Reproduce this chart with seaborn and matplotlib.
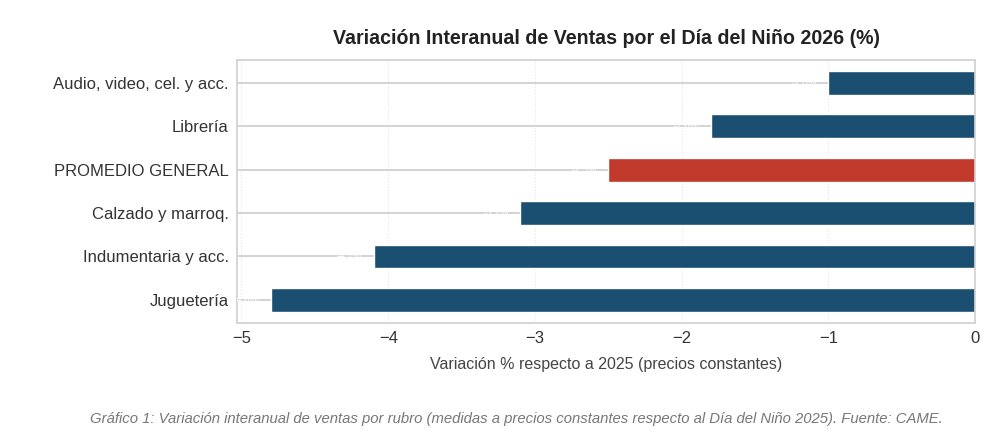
import pandas as pd
import matplotlib.pyplot as plt
import seaborn as sns

categorias = ['Audio, video, cel. y acc.', 'Librería', 'PROMEDIO GENERAL',
              'Calzado y marroq.', 'Indumentaria y acc.', 'Juguetería']
variacion = [-1.0, -1.8, -2.5, -3.1, -4.1, -4.8]
colores = ['#1b4f72', '#1b4f72', '#c0392b', '#1b4f72', '#1b4f72', '#1b4f72']

df = pd.DataFrame({'rubro': categorias, 'var': variacion})

sns.set_theme(style='whitegrid')
plt.rcParams['font.family'] = ['Liberation Sans', 'DejaVu Sans']

fig = plt.figure(figsize=(9.92, 4.34), dpi=100)
ax = fig.add_axes([0.239, 0.256, 0.744, 0.606])

sns.barplot(data=df, x='var', y='rubro', hue='rubro', palette=colores,
            width=0.55, legend=False, ax=ax, saturation=1)

# etiquetas blancas (casi invisibles en el original)
for i, v in enumerate(variacion):
    ax.text(v - 0.08, i, f'{v:.1f}%', color='white', ha='right', va='center',
            fontsize=7, clip_on=True)

ax.set_xlim(-5.03, 0)
ax.set_ylim(5.53, -0.53)
ax.set_xticks([-5, -4, -3, -2, -1, 0])
ax.set_xticklabels(['\u22125', '\u22124', '\u22123', '\u22122', '\u22121', '0'])
ax.tick_params(axis='both', labelsize=12, colors='#333333', length=0, pad=6)
ax.grid(axis='y', color='#cccccc', linewidth=1.2, linestyle='-')
ax.grid(axis='x', color='#e6e6e6', linewidth=0.8, linestyle=':')
for s in ax.spines.values():
    s.set_color('#d0d0d0')
    s.set_linewidth(1.2)

ax.set_ylabel('')
ax.set_xlabel('Variación % respecto a 2025 (precios constantes)', fontsize=11.5,
              color='#444444', labelpad=8)
ax.set_title('Variación Interanual de Ventas por el Día del Niño 2026 (%)',
             fontsize=14.1, fontweight='bold', color='#222222', pad=11.5)

fig.text(0.521, 0.035, 'Gráfico 1: Variación interanual de ventas por rubro (medidas a precios '
         'constantes respecto al Día del Niño 2025). Fuente: CAME.',
         ha='center', va='center', fontsize=10.7, style='italic', color='#777777')

plt.savefig('out.png', dpi=100)
